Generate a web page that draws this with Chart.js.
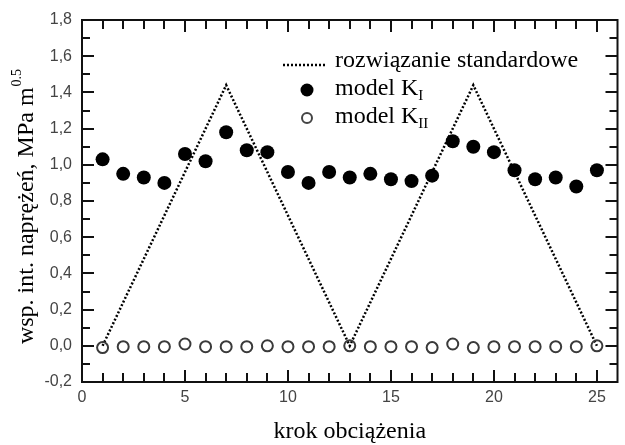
<!DOCTYPE html>
<html>
<head>
<meta charset="utf-8">
<script src="https://cdn.jsdelivr.net/npm/chart.js@4.4.1/dist/chart.umd.min.js"></script>
<style>
  html, body { margin: 0; padding: 0; background: #fff; }
  #wrap { width: 625px; height: 445px; }
</style>
</head>
<body>
<div id="wrap"><canvas id="kChart" width="625" height="445"></canvas></div>
<script>
// dane
const steps = [1, 2, 3, 4, 5, 6, 7, 8, 9, 10, 11, 12, 13, 14, 15, 16, 17, 18, 19, 20, 21, 22, 23, 24, 25];
const kI = [1.03, 0.95, 0.93, 0.90, 1.06, 1.02, 1.18, 1.08, 1.07, 0.96, 0.90, 0.96, 0.93,
            0.95, 0.92, 0.91, 0.94, 1.13, 1.10, 1.07, 0.97, 0.92, 0.93, 0.88, 0.97];
const kII = [-0.01, -0.005, -0.005, -0.005, 0.01, -0.005, -0.005, -0.005, 0.0, -0.005, -0.005, -0.005, 0.0,
             -0.005, -0.005, -0.005, -0.01, 0.01, -0.01, -0.005, -0.005, -0.005, -0.005, -0.005, 0.0];
const stdSteps = [1, 7, 13, 19, 25];
const stdValues = [0.0, 1.44, 0.0, 1.44, 0.0];
const xTickLabels = [0, 5, 10, 15, 20, 25];

const serif = "'Liberation Serif', 'Times New Roman', serif";
const sans = "'Liberation Sans', Arial, sans-serif";

function pts(xs, ys) {
  return xs.map((x, i) => ({ x: x, y: ys[i] }));
}

// ramka, wewnetrzne znaczniki, tytuly osi i legenda
const decorPlugin = {
  id: 'decor',
  afterDatasetsDraw(chart) {
    const ctx = chart.ctx;
    const a = chart.chartArea;
    const xs = chart.scales.x, ys = chart.scales.y;
    ctx.save();
    ctx.strokeStyle = '#111';
    ctx.lineWidth = 2;
    ctx.setLineDash([]);
    ctx.strokeRect(a.left, a.top, a.right - a.left, a.bottom - a.top);

    // znaczniki osi x (dol i gora)
    for (let v = 1; v <= 25; v++) {
      const px = Math.round(xs.getPixelForValue(v));
      const len = v % 5 === 0 ? 12 : 9;
      ctx.beginPath();
      ctx.moveTo(px, a.bottom); ctx.lineTo(px, a.bottom - len);
      ctx.moveTo(px, a.top); ctx.lineTo(px, a.top + len);
      ctx.stroke();
    }
    // znaczniki osi y (lewa i prawa)
    for (let i = 1; i < 20; i++) {
      const v = -0.2 + i * 0.1;
      const py = Math.round(ys.getPixelForValue(v));
      const len = i % 2 === 0 ? 12 : 8;
      ctx.beginPath();
      ctx.moveTo(a.left, py); ctx.lineTo(a.left + len, py);
      ctx.moveTo(a.right, py); ctx.lineTo(a.right - len, py);
      ctx.stroke();
    }

    ctx.fillStyle = '#000';
    ctx.textBaseline = 'alphabetic';

    // tytul osi x
    ctx.font = '24px ' + serif;
    ctx.textAlign = 'center';
    ctx.fillText('krok obciążenia', (a.left + a.right) / 2, 438);

    // tytul osi y z wykladnikiem
    ctx.save();
    ctx.translate(33, (a.top + a.bottom) / 2 + 6);
    ctx.rotate(-Math.PI / 2);
    ctx.textAlign = 'left';
    const main = 'wsp. int. naprężeń, MPa m';
    ctx.font = '24px ' + serif;
    const w1 = ctx.measureText(main).width;
    ctx.font = '14px ' + serif;
    const w2 = ctx.measureText('0.5').width;
    const x0 = -(w1 + w2) / 2;
    ctx.font = '24px ' + serif;
    ctx.fillText(main, x0, 0);
    ctx.font = '14px ' + serif;
    ctx.fillText('0.5', x0 + w1 + 1, -12);
    ctx.restore();

    // legenda
    ctx.textAlign = 'left';
    ctx.strokeStyle = '#000';
    ctx.lineWidth = 2.5;
    ctx.setLineDash([2, 2]);
    ctx.beginPath();
    ctx.moveTo(283, 65); ctx.lineTo(327, 65);
    ctx.stroke();
    ctx.setLineDash([]);
    ctx.font = '24px ' + serif;
    ctx.fillText('rozwiązanie standardowe', 335, 67);

    ctx.beginPath();
    ctx.arc(307, 90, 6.5, 0, Math.PI * 2);
    ctx.fillStyle = '#000';
    ctx.fill();
    ctx.font = '24px ' + serif;
    ctx.fillText('model K', 335, 95);
    let wk = ctx.measureText('model K').width;
    ctx.font = '15px ' + serif;
    ctx.fillText('I', 335 + wk, 100);

    ctx.beginPath();
    ctx.arc(307, 118, 5, 0, Math.PI * 2);
    ctx.strokeStyle = '#444';
    ctx.lineWidth = 2;
    ctx.stroke();
    ctx.font = '24px ' + serif;
    ctx.fillText('model K', 335, 123);
    ctx.font = '15px ' + serif;
    ctx.fillText('II', 335 + wk, 128);

    ctx.restore();
  }
};

const ctx = document.getElementById('kChart').getContext('2d');
const kChart = new Chart(ctx, {
  type: 'scatter',
  data: {
    datasets: [{
      label: 'rozwiązanie standardowe',
      data: pts(stdSteps, stdValues),
      showLine: true,
      borderColor: '#000',
      borderWidth: 2.5,
      borderDash: [2, 2],
      pointRadius: 0,
      fill: false,
      order: 3
    }, {
      label: 'model KI',
      data: pts(steps, kI),
      pointRadius: 7,
      pointBackgroundColor: '#000',
      pointBorderColor: '#000',
      pointBorderWidth: 0,
      order: 2
    }, {
      label: 'model KII',
      data: pts(steps, kII),
      pointRadius: 5.5,
      pointBackgroundColor: 'rgba(255,255,255,0)',
      pointBorderColor: '#3a3a3a',
      pointBorderWidth: 2,
      order: 1
    }]
  },
  options: {
    responsive: false,
    animation: false,
    layout: { padding: { top: 20, right: 2, left: 0, bottom: 0 } },
    scales: {
      x: {
        type: 'linear',
        min: 0,
        max: 26,
        grid: { display: false, drawTicks: false },
        border: { display: false },
        afterFit(scale) { scale.height = 63; },
        afterBuildTicks(scale) {
          scale.ticks = xTickLabels.map(v => ({ value: v }));
        },
        ticks: {
          padding: 6,
          color: '#444',
          font: { family: sans, size: 16 },
          callback: (v) => String(v)
        }
      },
      y: {
        min: -0.2,
        max: 1.8,
        grid: { display: false, drawTicks: false },
        border: { display: false },
        afterFit(scale) { scale.width = 82; },
        ticks: {
          stepSize: 0.2,
          padding: 10,
          color: '#444',
          font: { family: sans, size: 16 },
          callback: (v) => Number(v).toFixed(1).replace('.', ',')
        }
      }
    },
    plugins: {
      legend: { display: false },
      tooltip: { enabled: false }
    }
  },
  plugins: [decorPlugin]
});
</script>
</body>
</html>
